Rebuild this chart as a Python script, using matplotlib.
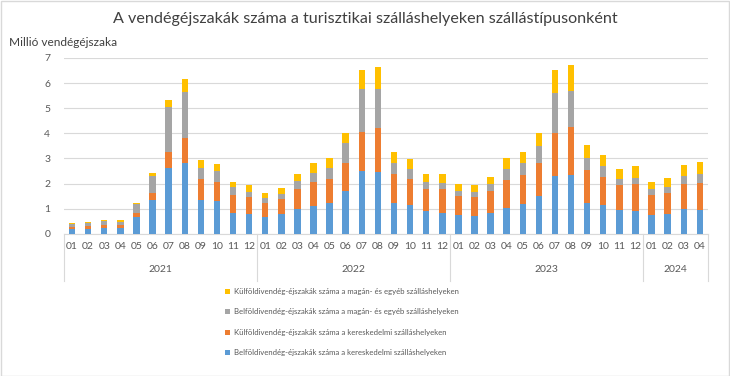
import matplotlib.pyplot as plt
import numpy as np

plt.rcParams['font.family'] = ['Lato', 'DejaVu Sans']

years = ['2021', '2022', '2023', '2024']
months_per_year = [12, 12, 12, 4]
month_labels = ['%02d' % m for n in months_per_year for m in range(1, n + 1)]

# Million guest nights (cumulative tops converted to segments)
belf_keresk = [0.19, 0.20, 0.23, 0.23, 0.66, 1.35, 2.64, 2.83, 1.35, 1.29, 0.85, 0.81,
               0.68, 0.80, 0.97, 1.09, 1.21, 1.69, 2.52, 2.48, 1.24, 1.13, 0.89, 0.84,
               0.76, 0.72, 0.84, 1.04, 1.17, 1.49, 2.32, 2.34, 1.22, 1.13, 0.93, 0.92,
               0.77, 0.81, 0.97, 0.96]
kulf_keresk = [0.09, 0.10, 0.13, 0.12, 0.18, 0.28, 0.63, 0.98, 0.83, 0.79, 0.70, 0.64,
               0.53, 0.57, 0.82, 0.97, 0.99, 1.13, 1.54, 1.72, 1.16, 1.06, 0.90, 0.94,
               0.73, 0.73, 0.86, 1.11, 1.18, 1.31, 1.70, 1.90, 1.34, 1.15, 1.00, 1.05,
               0.76, 0.82, 1.01, 1.07]
belf_magan = [0.12, 0.12, 0.14, 0.14, 0.33, 0.67, 1.78, 1.83, 0.46, 0.43, 0.30, 0.21,
              0.20, 0.22, 0.32, 0.38, 0.44, 0.78, 1.70, 1.58, 0.43, 0.40, 0.28, 0.25,
              0.21, 0.21, 0.28, 0.43, 0.48, 0.69, 1.57, 1.46, 0.45, 0.42, 0.27, 0.27,
              0.24, 0.24, 0.33, 0.37]
kulf_magan = [0.04, 0.06, 0.06, 0.07, 0.05, 0.12, 0.29, 0.52, 0.31, 0.27, 0.22, 0.27,
              0.21, 0.24, 0.28, 0.39, 0.36, 0.42, 0.76, 0.87, 0.42, 0.40, 0.31, 0.36,
              0.29, 0.27, 0.30, 0.45, 0.44, 0.53, 0.92, 1.03, 0.51, 0.45, 0.39, 0.47,
              0.31, 0.36, 0.44, 0.47]

series = [
    ('Belföldivendég-éjszakák száma a kereskedelmi szálláshelyeken', belf_keresk, '#5B9BD5'),
    ('Külföldivendég-éjszakák száma a kereskedelmi szálláshelyeken', kulf_keresk, '#ED7D31'),
    ('Belföldivendég-éjszakák száma a magán- és egyéb szálláshelyeken', belf_magan, '#A5A5A5'),
    ('Külföldivendég-éjszakák száma a magán- és egyéb szálláshelyeken', kulf_magan, '#FFC000'),
]

fig = plt.figure(figsize=(7.3, 3.76), dpi=100)
ax = fig.add_axes([0.0877, 0.378, 0.882, 0.468])

x = np.arange(len(month_labels))
bottom = np.zeros(len(x))
handles = []
for label, values, color in series:
    bars = ax.bar(x, values, 0.4, bottom=bottom, color=color, label=label, zorder=3)
    bottom += np.array(values)
    handles.append(bars)

ax.set_xlim(-0.5, len(x) - 0.5)
ax.set_ylim(0, 7)
ax.set_yticks(range(8))
ax.grid(axis='y', color='#D9D9D9', linewidth=0.8, zorder=0)
ax.set_xticks(x, labels=month_labels)
ax.tick_params(axis='x', length=0, pad=6, labelsize=7.5, labelcolor='#595959')
ax.tick_params(axis='y', length=0, pad=10, labelsize=7.5, labelcolor='#595959')
for side in ['top', 'right', 'left']:
    ax.spines[side].set_visible(False)
ax.spines['bottom'].set_color('#D9D9D9')

# year groups below the month labels
trans = ax.get_xaxis_transform()
edges = np.concatenate([[0], np.cumsum(months_per_year)]) - 0.5
for e in edges:
    ax.plot([e, e], [0, -0.265], color='#D9D9D9', linewidth=0.8, transform=trans, clip_on=False)
for i, year in enumerate(years):
    ax.text((edges[i] + edges[i + 1]) / 2, -0.205, year, transform=trans,
            ha='center', va='center', fontsize=7.5, color='#595959')

fig.text(0.5, 0.95, 'A vendégéjszakák száma a turisztikai szálláshelyeken szállástípusonként',
         ha='center', va='center', fontsize=11.6, color='#404040')
fig.text(0.012, 0.888, 'Millió vendégéjszaka', ha='left', va='center', fontsize=8.6, color='#404040')

leg = fig.legend(handles[::-1], [s[0] for s in series][::-1], loc='upper left',
                 bbox_to_anchor=(0.304, 0.242), frameon=False, fontsize=5.6,
                 handlelength=0.65, handleheight=0.65, handletextpad=0.5, labelspacing=1.72,
                 borderaxespad=0)
for t in leg.get_texts():
    t.set_color('#595959')

fig.patches.append(plt.Rectangle((0.001, 0.001), 0.998, 0.997, transform=fig.transFigure,
                                 fill=False, edgecolor='#D9D9D9', linewidth=1))

fig.savefig('out.png', dpi=100)
